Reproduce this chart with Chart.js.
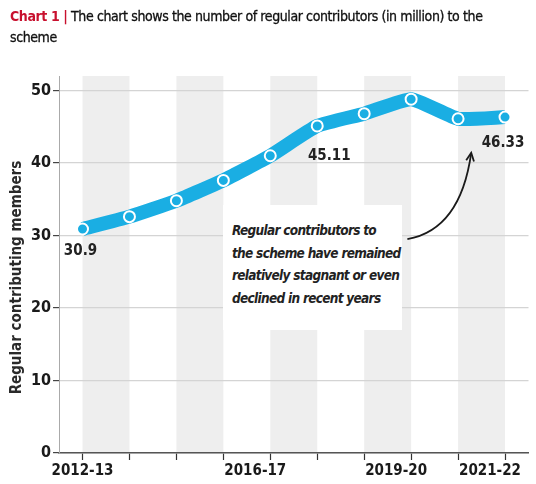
<!DOCTYPE html>
<html>
<head>
<meta charset="utf-8">
<script src="https://cdn.jsdelivr.net/npm/chart.js@4.4.1/dist/chart.umd.min.js"></script>
<style>
  html, body { margin: 0; padding: 0; background: #fff; }
  #wrap { position: relative; width: 536px; height: 484px; overflow: hidden; }
  #chart { position: absolute; left: 0; top: 0; }
  .title {
    position: absolute; left: 10px; top: 6px; width: 520px;
    font-family: 'Liberation Sans Narrow', 'DejaVu Sans Condensed', Roboto, sans-serif;
    font-size: 14px; line-height: 21px; color: #111; letter-spacing: -0.4px;
    -webkit-text-stroke: 0.3px #111;
  }
  .title .tag { color: #c8102e; font-weight: bold; -webkit-text-stroke: 0; }
  .note {
    position: absolute; left: 223px; top: 205px; width: 170px; height: 111px;
    background: #fff; padding: 14px 0 0 9px; white-space: nowrap;
    font-family: 'Liberation Sans Narrow', 'DejaVu Sans Condensed', Roboto, sans-serif;
    font-style: italic; font-weight: bold; font-size: 13.5px; line-height: 22.7px; color: #222;
    letter-spacing: -0.7px;
  }
</style>
</head>
<body>
<div id="wrap">
  <canvas id="chart" width="536" height="484"></canvas>
  <div class="title"><span class="tag">Chart 1 |</span> The chart shows the number of regular contributors (in million) to the scheme</div>
  <div class="note">Regular contributors to<br>the scheme have remained<br>relatively stagnant or even<br>declined in recent years</div>
</div>
<script>
const years = ['2012-13', '2013-14', '2014-15', '2015-16', '2016-17', '2017-18', '2018-19', '2019-20', '2020-21', '2021-22'];
const members = [30.9, 32.6, 34.8, 37.6, 41.0, 45.11, 46.8, 48.8, 46.1, 46.33];
const shownYears = ['2012-13', '2016-17', '2019-20', '2021-22'];
const labelledPoints = [0, 5, 9];
const yTicks = [0, 10, 20, 30, 40, 50];
const yTitle = 'Regular contributing members';

const FONT = "'Liberation Sans Narrow', 'DejaVu Sans Condensed', Roboto, sans-serif";
const CYAN = '#1aaee3';

// grey column bands, drawn before the grid
const bands = {
  id: 'bands',
  beforeDraw(chart) {
    const { ctx, chartArea, scales: { x } } = chart;
    ctx.save();
    ctx.fillStyle = '#eeeeee';
    for (let i = 0; i < years.length - 1; i += 2) {
      const x0 = x.getPixelForValue(i);
      const x1 = x.getPixelForValue(i + 1);
      ctx.fillRect(x0, chartArea.top, x1 - x0, chartArea.bottom - chartArea.top);
    }
    ctx.restore();
  }
};

// year labels under the axis (only a few are shown) + rotated y title
const axisText = {
  id: 'axisText',
  afterDraw(chart) {
    const { ctx, chartArea, scales: { x, y } } = chart;
    ctx.save();
    ctx.font = 'bold 15px ' + FONT;
    ctx.fillStyle = '#1a1a1a';
    ctx.textAlign = 'center';
    ctx.textBaseline = 'middle';
    years.forEach((yr, i) => {
      if (!shownYears.includes(yr)) return;
      const shift = i === 0 ? 0 : -15;
      ctx.fillText(yr, x.getPixelForValue(i) + shift, chartArea.bottom + 18);
    });
    ctx.translate(17, y.getPixelForValue(24.2));
    ctx.rotate(-Math.PI / 2);
    ctx.font = 'bold 15px ' + FONT;
    ctx.fillStyle = '#2a2a2a';
    ctx.fillText(yTitle, 0, 0);
    ctx.restore();
  }
};

const pointLabels = {
  id: 'pointLabels',
  afterDatasetsDraw(chart) {
    const { ctx } = chart;
    const meta = chart.getDatasetMeta(0);
    ctx.save();
    ctx.font = 'bold 15px ' + FONT;
    ctx.fillStyle = '#222';
    ctx.textAlign = 'center';
    ctx.textBaseline = 'middle';
    labelledPoints.forEach((i) => {
      const p = meta.data[i];
      const dx = i === 5 ? 12 : -2;
      const dy = i === 5 ? 30 : (i === 9 ? 26 : 22);
      ctx.fillText(String(members[i]), p.x + dx, p.y + dy);
    });
    ctx.restore();
  }
};

const arrow = {
  id: 'arrow',
  afterDraw(chart) {
    const { ctx, scales: { x, y } } = chart;
    const sx = x.getPixelForValue(6.92), sy = y.getPixelForValue(29.5);
    const cx = x.getPixelForValue(8.05), cy = y.getPixelForValue(30.8);
    const ex = x.getPixelForValue(8.28), ey = y.getPixelForValue(41.4);
    ctx.save();
    ctx.strokeStyle = '#1a1a1a';
    ctx.lineWidth = 1.8;
    ctx.beginPath();
    ctx.moveTo(sx, sy);
    ctx.quadraticCurveTo(cx, cy, ex, ey);
    ctx.stroke();
    const ang = Math.atan2(ey - cy, ex - cx);
    ctx.beginPath();
    ctx.moveTo(ex - 9 * Math.cos(ang - 0.45), ey - 9 * Math.sin(ang - 0.45));
    ctx.lineTo(ex, ey);
    ctx.lineTo(ex - 9 * Math.cos(ang + 0.45), ey - 9 * Math.sin(ang + 0.45));
    ctx.stroke();
    ctx.restore();
  }
};

new Chart(document.getElementById('chart'), {
  type: 'line',
  data: {
    datasets: [{
      data: members.map((v, i) => ({ x: i, y: v })),
      borderColor: CYAN,
      borderWidth: 14,
      tension: 0.15,
      pointRadius: 5.5,
      pointBackgroundColor: CYAN,
      pointBorderColor: '#fff',
      pointBorderWidth: 2
    }]
  },
  options: {
    responsive: false,
    animation: false,
    layout: { padding: { top: 76, right: 0, bottom: 24, left: 29 } },
    plugins: { legend: { display: false }, tooltip: { enabled: false } },
    scales: {
      x: {
        type: 'linear',
        min: -0.5,
        max: 9.5,
        afterBuildTicks: (s) => { s.ticks = years.map((_, i) => ({ value: i })); },
        afterFit: (s) => { s.paddingLeft = 0; s.paddingRight = 0; },
        ticks: { display: false },
        grid: { drawOnChartArea: false, tickLength: 7, tickColor: '#333', tickWidth: 1.2 },
        border: { color: '#555', width: 1.5 }
      },
      y: {
        min: 0,
        max: 52,
        afterBuildTicks: (s) => { s.ticks = yTicks.map((v) => ({ value: v })); },
        afterFit: (s) => { s.paddingTop = 0; s.paddingBottom = 0; },
        ticks: {
          color: '#1a1a1a',
          font: { family: FONT, size: 16, weight: 'bold' },
          padding: 2
        },
        grid: { color: '#d4d4d4', lineWidth: 1.2, tickLength: 6, tickColor: '#444' },
        border: { color: '#aaa', width: 1 }
      }
    }
  },
  plugins: [bands, axisText, pointLabels, arrow]
});
</script>
</body>
</html>
